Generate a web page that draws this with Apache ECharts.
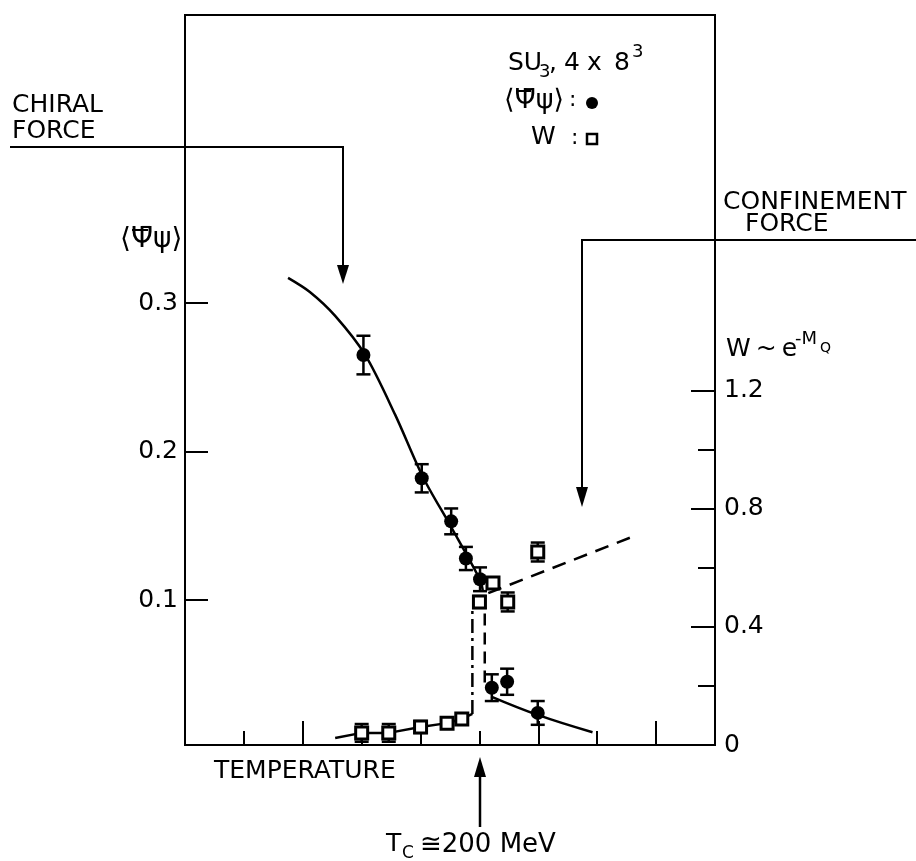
<!DOCTYPE html>
<html>
<head>
<meta charset="utf-8">
<script src="https://cdn.jsdelivr.net/npm/echarts@6/dist/echarts.min.js"></script>
<style>
  html, body { margin: 0; padding: 0; background: #fff; }
  #main { width: 916px; height: 861px; }
</style>
</head>
<body>
<div id="main"></div>
<script>
// <ΨΨ> 数据点 (左轴)
var psiX   = [3.03, 4.02, 4.52, 4.77, 5.01, 5.21, 5.47, 5.99];
var psiY   = [0.265, 0.182, 0.153, 0.128, 0.114, 0.041, 0.045, 0.024];
var psiErr = [0.013, 0.0095, 0.0087, 0.0078, 0.008, 0.009, 0.0088, 0.008];

// W 数据点 (右轴)
var wX   = [3.0, 3.46, 4.0, 4.45, 4.7, 5.0, 5.23, 5.48, 5.99];
var wY   = [0.041, 0.041, 0.061, 0.074, 0.088, 0.484, 0.548, 0.484, 0.653];
var wErr = [0.03, 0.03, 0.02, 0, 0, 0.02, 0, 0.032, 0.032];

// 曲线
var psiCurveHigh = [[1.75, 0.317], [2.12, 0.3075], [2.55, 0.2914], [3.06, 0.2651],
                    [3.57, 0.2247], [4.04, 0.1829], [4.52, 0.1492], [5.01, 0.1136], [5.06, 0.1055]];
var psiCurveLow  = [[5.2, 0.035], [6.0, 0.0225], [6.92, 0.011]];
var psiJump      = [[5.09, 0.091], [5.09, 0.040]];
var wLineLow     = [[2.55, 0.024], [3.0, 0.041], [3.46, 0.041], [4.0, 0.061], [4.45, 0.074],
                    [4.7, 0.088], [4.88, 0.105]];
var wJump        = [[4.88, 0.105], [4.88, 0.46]];
var wLineHigh    = [[5.15, 0.514], [7.68, 0.711]];

// 刻度
var xTicksLong  = [2, 4, 6, 8];
var xTicksShort = [1, 3, 5, 7];
var leftTicks   = [0.1, 0.2, 0.3];
var rightTicks  = [0, 0.4, 0.8, 1.2];
var rightMinor  = [0.2, 0.6, 1.0];

var FONT = '"DejaVu Sans", sans-serif';
var PSI = '\u27E8\u03A8\u0304\u03C8\u27E9';

function zipErr(xs, ys, es) {
    var out = [];
    for (var i = 0; i < xs.length; i++) {
        if (es[i] > 0) out.push([xs[i], ys[i] - es[i], ys[i] + es[i]]);
    }
    return out;
}

function errRender(params, api) {
    var top = api.coord([api.value(0), api.value(2)]);
    var bot = api.coord([api.value(0), api.value(1)]);
    var w = 7;
    var st = { stroke: '#000', lineWidth: 2.5 };
    return {
        type: 'group',
        children: [
            { type: 'line', shape: { x1: top[0], y1: top[1], x2: bot[0], y2: bot[1] }, style: st },
            { type: 'line', shape: { x1: top[0] - w, y1: top[1], x2: top[0] + w, y2: top[1] }, style: st },
            { type: 'line', shape: { x1: bot[0] - w, y1: bot[1], x2: bot[0] + w, y2: bot[1] }, style: st }
        ]
    };
}

function txt(x, y, s, size) {
    return { type: 'text', left: x, top: y,
             style: { text: s, font: size + 'px ' + FONT, fill: '#000' } };
}

function bar(x1, x2, y) {
    return { type: 'line', shape: { x1: x1, y1: y, x2: x2, y2: y },
             style: { stroke: '#000', lineWidth: 2 } };
}

var myChart = echarts.init(document.getElementById('main'));

var blackLine = { color: '#000', width: 2.5 };
var tickStyle = { color: '#000', width: 2 };

option = {
    backgroundColor: '#fff',
    animation: false,
    grid: {
        left: 185, right: 201, top: 15, bottom: 116,
        show: true, borderColor: '#000', borderWidth: 2
    },
    xAxis: [
        {
            type: 'value', min: 0, max: 9, position: 'bottom',
            axisLine: { show: true, onZero: false, lineStyle: tickStyle },
            axisTick: { show: true, inside: true, length: 24, customValues: xTicksLong, lineStyle: tickStyle },
            axisLabel: { show: false },
            splitLine: { show: false }
        },
        {
            type: 'value', min: 0, max: 9, position: 'bottom',
            axisLine: { show: false, onZero: false },
            axisTick: { show: true, inside: true, length: 14, customValues: xTicksShort, lineStyle: tickStyle },
            axisLabel: { show: false },
            splitLine: { show: false }
        }
    ],
    yAxis: [
        {
            type: 'value', min: 0.0024, max: 0.494, position: 'left',
            axisLine: { show: true, onZero: false, lineStyle: tickStyle },
            axisTick: { show: true, inside: true, length: 23, customValues: leftTicks, lineStyle: tickStyle },
            axisLabel: { show: true, customValues: leftTicks, margin: 7,
                         color: '#000', fontFamily: FONT, fontSize: 25,
                         formatter: function (v) { return v.toFixed(1); } },
            splitLine: { show: false }
        },
        {
            type: 'value', min: 0, max: 2.47, position: 'right',
            axisLine: { show: true, onZero: false, lineStyle: tickStyle },
            axisTick: { show: true, inside: true, length: 24, customValues: rightTicks, lineStyle: tickStyle },
            axisLabel: { show: true, customValues: rightTicks, margin: 9,
                         color: '#000', fontFamily: FONT, fontSize: 25,
                         formatter: function (v) { return v === 0 ? '0' : v.toFixed(1); } },
            splitLine: { show: false }
        },
        {
            type: 'value', min: 0, max: 2.47, position: 'right',
            axisLine: { show: false, onZero: false },
            axisTick: { show: true, inside: true, length: 17, customValues: rightMinor, lineStyle: tickStyle },
            axisLabel: { show: false },
            splitLine: { show: false }
        }
    ],
    series: [
        { type: 'line', xAxisIndex: 0, yAxisIndex: 0, data: psiCurveHigh, smooth: 0.3,
          showSymbol: false, lineStyle: blackLine, z: 2 },
        { type: 'line', xAxisIndex: 0, yAxisIndex: 0, data: psiCurveLow, smooth: 0.4,
          showSymbol: false, lineStyle: blackLine, z: 2 },
        { type: 'line', xAxisIndex: 0, yAxisIndex: 0, data: psiJump, showSymbol: false,
          lineStyle: { color: '#000', width: 2.5, type: [12, 7] }, z: 2 },
        { type: 'line', xAxisIndex: 0, yAxisIndex: 1, data: wLineHigh, showSymbol: false,
          lineStyle: { color: '#000', width: 2.5, type: [14, 9] }, z: 2 },
        { type: 'line', xAxisIndex: 0, yAxisIndex: 1, data: wLineLow, showSymbol: false,
          lineStyle: blackLine, z: 2 },
        { type: 'line', xAxisIndex: 0, yAxisIndex: 1, data: wJump, showSymbol: false,
          lineStyle: { color: '#000', width: 2.5, type: [14, 5, 3, 5] }, z: 2 },
        { type: 'custom', xAxisIndex: 0, yAxisIndex: 0, renderItem: errRender,
          data: zipErr(psiX, psiY, psiErr), encode: { x: 0, y: [1, 2] }, z: 3 },
        { type: 'custom', xAxisIndex: 0, yAxisIndex: 1, renderItem: errRender,
          data: zipErr(wX, wY, wErr), encode: { x: 0, y: [1, 2] }, z: 3 },
        { type: 'scatter', xAxisIndex: 0, yAxisIndex: 0,
          data: psiX.map(function (x, i) { return [x, psiY[i]]; }),
          symbol: 'circle', symbolSize: 14, itemStyle: { color: '#000', opacity: 1 }, z: 4 },
        { type: 'scatter', xAxisIndex: 0, yAxisIndex: 1,
          data: wX.map(function (x, i) { return [x, wY[i]]; }),
          symbol: 'rect', symbolSize: 12,
          itemStyle: { color: '#fff', borderColor: '#000', borderWidth: 3, opacity: 1 }, z: 5 }
    ],
    graphic: [
        // CHIRAL FORCE
        { type: 'text', left: 12, top: 92,
          style: { text: 'CHIRAL\nFORCE', font: '25px ' + FONT, lineHeight: 26, fill: '#000' } },
        { type: 'polyline', shape: { points: [[10, 147], [343, 147], [343, 268]] },
          style: { stroke: '#000', lineWidth: 2, fill: null } },
        { type: 'polygon', shape: { points: [[337, 265], [349, 265], [343, 284]] },
          style: { fill: '#000' } },
        // CONFINEMENT FORCE
        txt(723, 190, 'CONFINEMENT', 25),
        txt(745, 212, 'FORCE', 25),
        { type: 'polyline', shape: { points: [[916, 240], [582, 240], [582, 490]] },
          style: { stroke: '#000', lineWidth: 2, fill: null } },
        { type: 'polygon', shape: { points: [[576, 487], [588, 487], [582, 507]] },
          style: { fill: '#000' } },
        // 图例 SU3, 4 x 8^3
        txt(508, 51, 'SU', 25),
        txt(539, 63, '3', 18),
        txt(549, 51, ',', 25),
        txt(564, 51, '4', 25),
        txt(587, 51, 'x', 25),
        txt(614, 51, '8', 25),
        txt(632, 43, '3', 18),
        txt(504, 87, PSI, 27),
        bar(516, 531, 91),
        txt(569, 89, ':', 22),
        { type: 'circle', shape: { cx: 592, cy: 103, r: 6 }, style: { fill: '#000' } },
        txt(531, 125, 'W', 25),
        txt(571, 127, ':', 22),
        { type: 'rect', shape: { x: 587, y: 134, width: 10, height: 10 },
          style: { fill: '#fff', stroke: '#000', lineWidth: 2.5 } },
        // 轴名称
        txt(120, 226, PSI, 28),
        bar(132, 148, 230),
        txt(726, 337, 'W\u2009~\u2009e', 25),
        txt(795, 330, '-M', 18),
        txt(820, 341, 'Q', 14),
        txt(214, 759, 'TEMPERATURE', 25),
        // Tc 箭头
        { type: 'line', shape: { x1: 480, y1: 827, x2: 480, y2: 772 },
          style: { stroke: '#000', lineWidth: 2.5 } },
        { type: 'polygon', shape: { points: [[474, 777], [486, 777], [480, 757]] },
          style: { fill: '#000' } },
        txt(386, 832, 'T', 25),
        txt(402, 845, 'C', 17),
        txt(420, 832, '\u2245200 MeV', 26)
    ]
};

myChart.setOption(option);
window.addEventListener('resize', function () {
    myChart.resize();
});
</script>
</body>
</html>
